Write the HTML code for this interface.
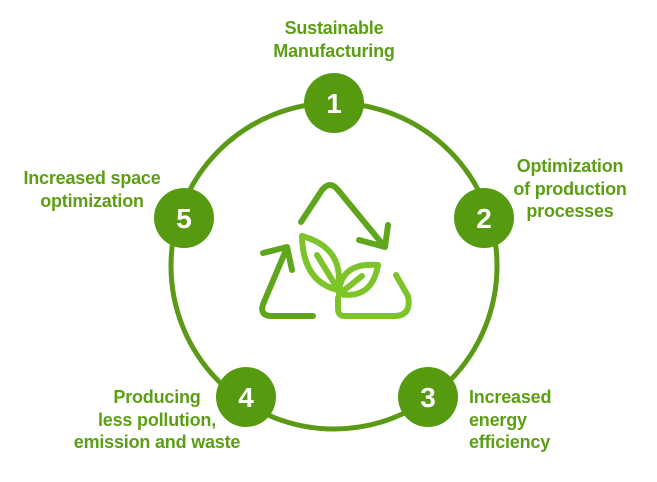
<!DOCTYPE html>
<html><head><style>
body{margin:0;width:657px;height:482px;background:#fff;font-family:"Liberation Sans",sans-serif;position:relative;overflow:hidden}
.t{position:absolute;color:#5c9f14;font-weight:bold;font-size:18px;line-height:22.5px;white-space:nowrap;letter-spacing:-0.2px}
</style></head><body>
<svg width="657" height="482" style="position:absolute;left:0;top:0">
<circle cx="334" cy="266" r="163" fill="none" stroke="#5a9a16" stroke-width="5"/>
<g fill="#569a10">
<circle cx="334" cy="103" r="30"/>
<circle cx="484" cy="218" r="30"/>
<circle cx="428" cy="397" r="30"/>
<circle cx="246" cy="397" r="30"/>
<circle cx="184" cy="218" r="30"/>
</g>
<g fill="#fff" font-family="Liberation Sans" font-weight="bold" font-size="28" text-anchor="middle">
<text x="334" y="113">1</text><text x="484" y="228">2</text><text x="428" y="407">3</text><text x="246" y="407">4</text><text x="184" y="228">5</text>
</g>
<g fill="none" stroke-linecap="round" stroke-linejoin="round" stroke-width="6">
<path d="M301 222 L322 190 Q330 180 338 190 L384 246" stroke="#5fa61c"/>
<path d="M359 240 L385 247 L388 225" stroke="#5fa61c"/>
<path d="M313 316 L272 316 Q258 316 264 302 L286 250" stroke="#5fa61c"/>
<path d="M263 253 L287 247 L292 270" stroke="#5fa61c"/>
<path d="M396 275 L408 296 Q412 316 394 316 L344 316 Q338 316 338 308 L338 298" stroke="#7cc42a"/>
<path d="M302 236 Q303 282 338 290 Q345 248 302 236 Z" stroke="#7cc42a"/>
<path d="M317 255 L336 286" stroke="#7cc42a"/>
<path d="M339 294 Q340 262 378 265 Q372 300 339 294 Z" stroke="#7cc42a"/>
<path d="M342 292 L362 276" stroke="#7cc42a"/>
</g>
</svg>
<div class="t" style="left:234px;top:17px;width:200px;text-align:center">Sustainable<br>Manufacturing</div>
<div class="t" style="left:500px;top:155px;width:140px;text-align:center">Optimization<br>of production<br>processes</div>
<div class="t" style="left:469px;top:386px;width:100px">Increased<br>energy<br>efficiency</div>
<div class="t" style="left:57px;top:386px;width:200px;text-align:center">Producing<br>less pollution,<br>emission and waste</div>
<div class="t" style="left:0px;top:167px;width:184px;text-align:center">Increased space<br>optimization</div>
</body></html>
